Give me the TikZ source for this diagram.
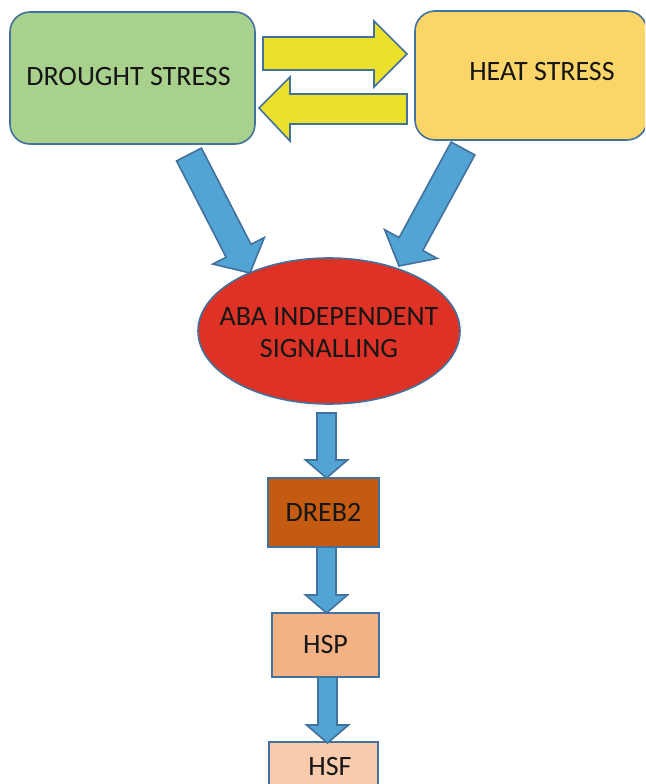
\documentclass[tikz,border=0pt]{standalone}
\usepackage{fontspec}
\setmainfont{Carlito}
\usetikzlibrary{calc,shapes.geometric}
\definecolor{bord}{HTML}{41719C}
\definecolor{grn}{HTML}{A9D18E}
\definecolor{heatc}{HTML}{FCD568}
\definecolor{yel}{HTML}{EBE12B}
\definecolor{blu}{HTML}{51A4D4}
\definecolor{redc}{HTML}{DE3226}
\definecolor{drebc}{HTML}{C55A11}
\definecolor{hspc}{HTML}{F4B183}
\definecolor{hsfc}{HTML}{F8CBAD}
\definecolor{txt}{HTML}{161616}
\newcommand\blkarrow[5]{%
  \fill[blu,draw=bord,line width=1.6pt,line join=miter]
  ($(#1)!#3!90:(#2)$) -- ($($(#2)!#5!(#1)$)!#3!90:(#2)$) --
  ($($(#2)!#5!(#1)$)!#4!90:(#2)$) -- (#2) --
  ($($(#2)!#5!(#1)$)!#4!-90:(#2)$) -- ($($(#2)!#5!(#1)$)!#3!-90:(#2)$) --
  ($(#1)!#3!-90:(#2)$) -- cycle;}
\begin{document}
\begin{tikzpicture}[x=1pt,y=-1pt,
  every node/.style={text=txt,font=\fontsize{28}{32}\selectfont},
  stressbox/.style={draw=bord,line width=1.6pt,rounded corners=20pt,inner sep=0pt},
  genebox/.style={draw=bord,line width=1.6pt,inner sep=0pt},
  yarrow/.style={fill=yel,draw=bord,line width=1.6pt,line join=miter}]
\useasboundingbox (0,0) rectangle (645,784);
\clip (0,0) rectangle (645,784);
% stress boxes
\node[stressbox,fill=grn,minimum width=245pt,minimum height=132pt] (drought) at (132.5,78) {};
\node (droughttext) at (128.5,77) {DROUGHT STRESS};
\node[stressbox,fill=heatc,minimum width=232pt,minimum height=129pt] (heat) at (531,75.5) {};
\node (heattext) at (542,72) {HEAT STRESS};
% yellow arrows
\coordinate (ya1) at (263,37);
\fill[yarrow] (ya1) -- (374,37) -- (374,21) -- (407,54) -- (374,87) -- (374,70) -- (263,70) -- cycle;
\coordinate (ya2) at (407,94);
\fill[yarrow] (ya2) -- (290,94) -- (290,77) -- (259,108) -- (290,141) -- (290,124) -- (407,124) -- cycle;
% diagonal arrows
\coordinate (dtail) at (189,154.5);
\coordinate (dtip) at (250,273);
\coordinate (htail) at (463,148.5);
\coordinate (htip) at (399,266);
\blkarrow{dtail}{dtip}{14pt}{29pt}{25pt}
\blkarrow{htail}{htip}{13.5pt}{30pt}{25pt}
% ellipse
\node[ellipse,draw=bord,line width=1.6pt,fill=redc,minimum width=262pt,minimum height=146pt,inner sep=0pt] (aba) at (329,331) {};
\node[align=center] (abatext) at (329,333) {ABA INDEPENDENT\\SIGNALLING};
% gene boxes
\node[genebox,fill=drebc,minimum width=111pt,minimum height=69pt] (dreb) at (323.5,512.5) {DREB2};
\node[genebox,fill=hspc,minimum width=107pt,minimum height=64pt] (hsp) at (325.5,645) {HSP};
\node[genebox,fill=hsfc,minimum width=109pt,minimum height=70pt] (hsf) at (323.5,777) {};
\node (hsftext) at (330,767) {HSF};
% vertical arrows
\coordinate (v1a) at (326.5,413);
\coordinate (v1b) at (326.5,478);
\coordinate (v2a) at (326.5,547);
\coordinate (v2b) at (326.5,613);
\coordinate (v3a) at (327.5,677);
\coordinate (v3b) at (327.5,743);
\blkarrow{v1a}{v1b}{9.5pt}{21pt}{18pt}
\blkarrow{v2a}{v2b}{9.5pt}{21pt}{18pt}
\blkarrow{v3a}{v3b}{9.5pt}{21pt}{18pt}
\end{tikzpicture}
\end{document}
